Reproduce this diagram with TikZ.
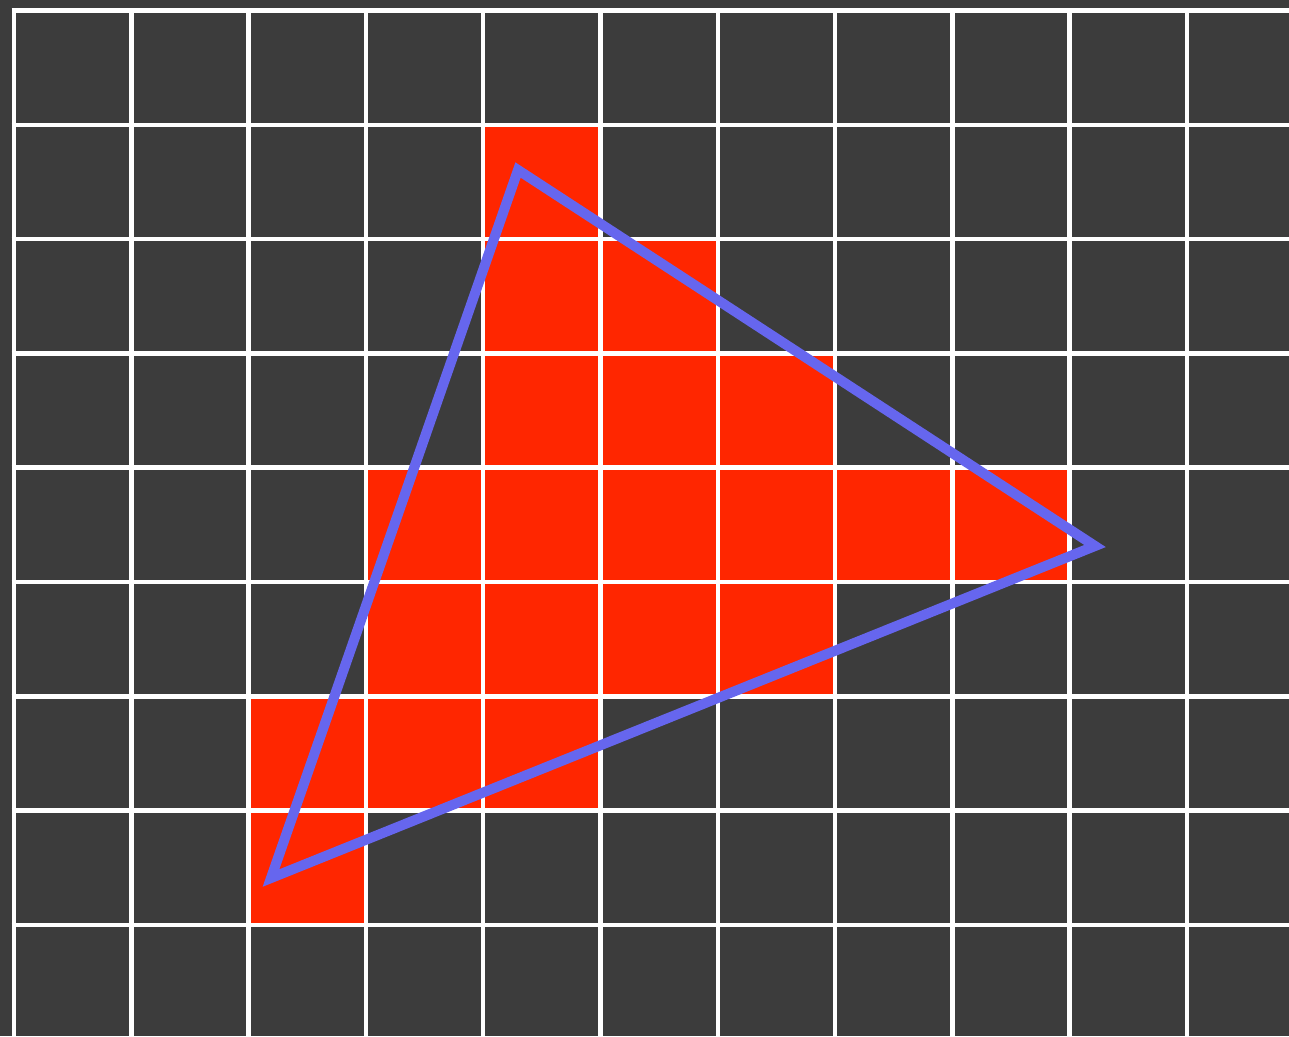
\documentclass[tikz,border=0pt]{standalone}
\usepackage{tikz}
\definecolor{cellgray}{HTML}{3C3C3C}
\definecolor{hitred}{HTML}{FF2600}
\definecolor{triblue}{HTML}{6666EE}

\begin{document}
\begin{tikzpicture}[
    x=0.01cm, y=-0.01cm,
    gridline/.style={white, line width=0.045cm},
    hitcell/.style={fill=hitred},
    edge/.style={triblue, line width=0.1cm, line join=miter}
]

% Background
\fill[cellgray] (0,0) rectangle (1289,1036);
\useasboundingbox (0,0) rectangle (1289,1036);

% Covered pixels (row/column)
\foreach \r/\c in {1/4, 2/4, 2/5, 3/4, 3/5, 3/6, 4/3, 4/4, 4/5, 4/6, 4/7, 4/8,
                   5/3, 5/4, 5/5, 5/6, 6/2, 6/3, 6/4, 7/2}
  \fill[hitcell] ({14+117.3*\c},{10.5+114.3*\r}) rectangle ({14+117.3*(\c+1)},{10.5+114.3*(\r+1)});

% Grid
\foreach \i in {0,...,10}
  \draw[gridline] ({14+117.3*\i},8.2) -- ({14+117.3*\i},1036);
\foreach \j in {0,...,8}
  \draw[gridline] (11.7,{10.5+114.3*\j}) -- (1289,{10.5+114.3*\j});

% Triangle
\coordinate (va) at (518,170);
\coordinate (vb) at (1095,546);
\coordinate (vc) at (271,878);
\draw[edge] (va) -- (vb) -- (vc) -- cycle;

\end{tikzpicture}
\end{document}
